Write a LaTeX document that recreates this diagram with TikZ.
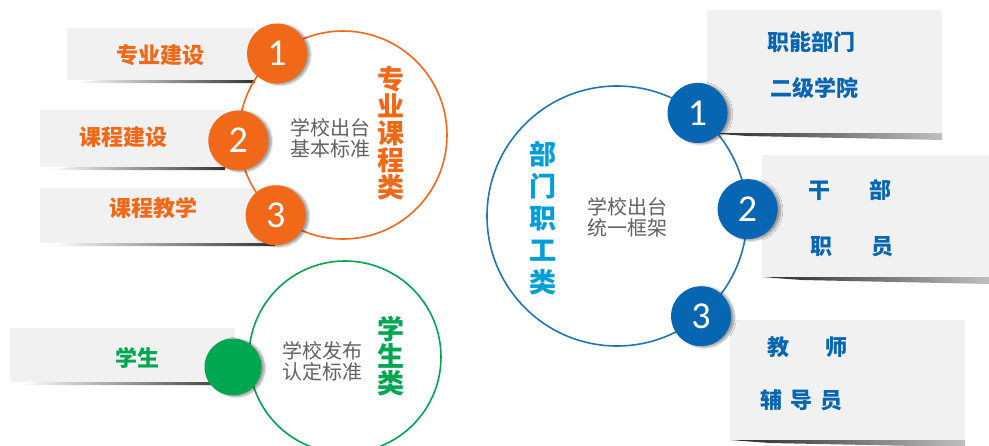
\documentclass[tikz,border=0pt]{standalone}
\usepackage{fontspec}
\setmainfont{Noto Sans CJK SC}
\newfontfamily\digitfont{Carlito}
\usetikzlibrary{shadows.blur}
\definecolor{kcorange}{RGB}{240,104,24}
\definecolor{kcgreen}{RGB}{0,166,80}
\definecolor{kcblue}{RGB}{6,102,178}
\definecolor{kcsky}{RGB}{0,158,219}
\definecolor{kccard}{RGB}{241,241,241}
\tikzset{
  ring/.style={circle,inner sep=0pt,line width=1.6pt},
  badge/.style={circle,inner sep=0pt,minimum size=60pt,text=white,
    font=\digitfont\fontsize{38}{38}\selectfont,
    blur shadow={shadow xshift=3pt,shadow yshift=-1pt,shadow blur steps=8}},
  item/.style={font=\bfseries\fontsize{22}{22}\selectfont,inner sep=0pt},
  note/.style={text=black!62,font=\fontsize{20}{21}\selectfont,align=left,inner sep=0pt},
  title/.style={font=\bfseries\fontsize{27}{27}\selectfont,align=center,inner sep=0pt}
}
\begin{document}
\begin{tikzpicture}[x=1pt,y=-1pt]
  \useasboundingbox (0,0) rectangle (989,445);
  % cards on the left, shadow darkest near the ring
  \foreach \xa/\xb/\ya/\yb in {67/255/28/80,40/225/110/167,40/275/188/243,10/235/328/382}{
    \fill[kccard] (\xa,\ya) rectangle (\xb,\yb);
    \shade[left color=white,right color=black!80] (\xa+8,\yb+3) -- (\xa+30,\yb) -- (\xb,\yb) -- (\xb,\yb+3) -- cycle;}
  % cards on the right
  \foreach \xa/\xb/\ya/\yb in {707/942/10/133,762/989/155/277,730/965/320/440}{
    \fill[kccard] (\xa,\ya) rectangle (\xb,\yb);
    \shade[left color=black!85,right color=black!25] (\xa,\yb) -- (\xb,\yb) -- (\xb,\yb+7) -- (\xa+40,\yb+3) -- cycle;}

  % orange group
  \node[ring,draw=kcorange,minimum size=208pt] (oring) at (343,135) {};
  \node[badge,fill=kcorange] (ob1) at (oring.129) {1};
  \node[badge,fill=kcorange] (ob2) at (oring.183) {2};
  \node[badge,fill=kcorange] (ob3) at (oring.230) {3};
  \node[item,text=kcorange] (ot1) at (160,55) {专业建设};
  \node[item,text=kcorange] (ot2) at (123,137) {课程建设};
  \node[item,text=kcorange] (ot3) at (153,208) {课程教学};
  \node[note] (onote) at (330,138) {学校出台\\基本标准};
  \node[title,text=kcorange] (otitle) at (391,133) {专\\业\\课\\程\\类};

  % green group
  \node[ring,draw=kcgreen,minimum size=192pt] (gring) at (345,357) {};
  \node[badge,fill=kcgreen,minimum size=57pt] (gb) at (233,367) {};
  \node[item,text=kcgreen] (gt) at (137,358) {学生};
  \node[note] (gnote) at (322,361) {学校发布\\认定标准};
  \node[title,text=kcgreen] (gtitle) at (391,356) {学\\生\\类};

  % blue group
  \node[ring,draw=kcblue!90,minimum size=260pt] (bring) at (617,216) {};
  \node[badge,fill=kcblue] (bb1) at (bring.52) {1};
  \node[badge,fill=kcblue] (bb2) at (bring.3) {2};
  \node[badge,fill=kcblue] (bb3) at (bring.-50) {3};
  \node[title,text=kcsky,font=\bfseries\fontsize{27}{32}\selectfont] (btitle) at (543,218) {部\\门\\职\\工\\类};
  \node[note] (bnote) at (627,217) {学校出台\\统一框架};
  \node[item,text=kcblue,anchor=west] (bt1a) at (767,42) {职能部门};
  \node[item,text=kcblue,anchor=west] (bt1b) at (770,88) {二级学院};
  \node[item,text=kcblue,anchor=west] (bt2a) at (808,190) {干\hspace{39pt}部};
  \node[item,text=kcblue,anchor=west] (bt2b) at (810,247) {职\hspace{39pt}员};
  \node[item,text=kcblue,anchor=west] (bt3a) at (767,347) {教\hspace{36pt}师};
  \node[item,text=kcblue,anchor=west] (bt3b) at (760,400) {辅\hspace{8pt}导\hspace{8pt}员};
\end{tikzpicture}
\end{document}
